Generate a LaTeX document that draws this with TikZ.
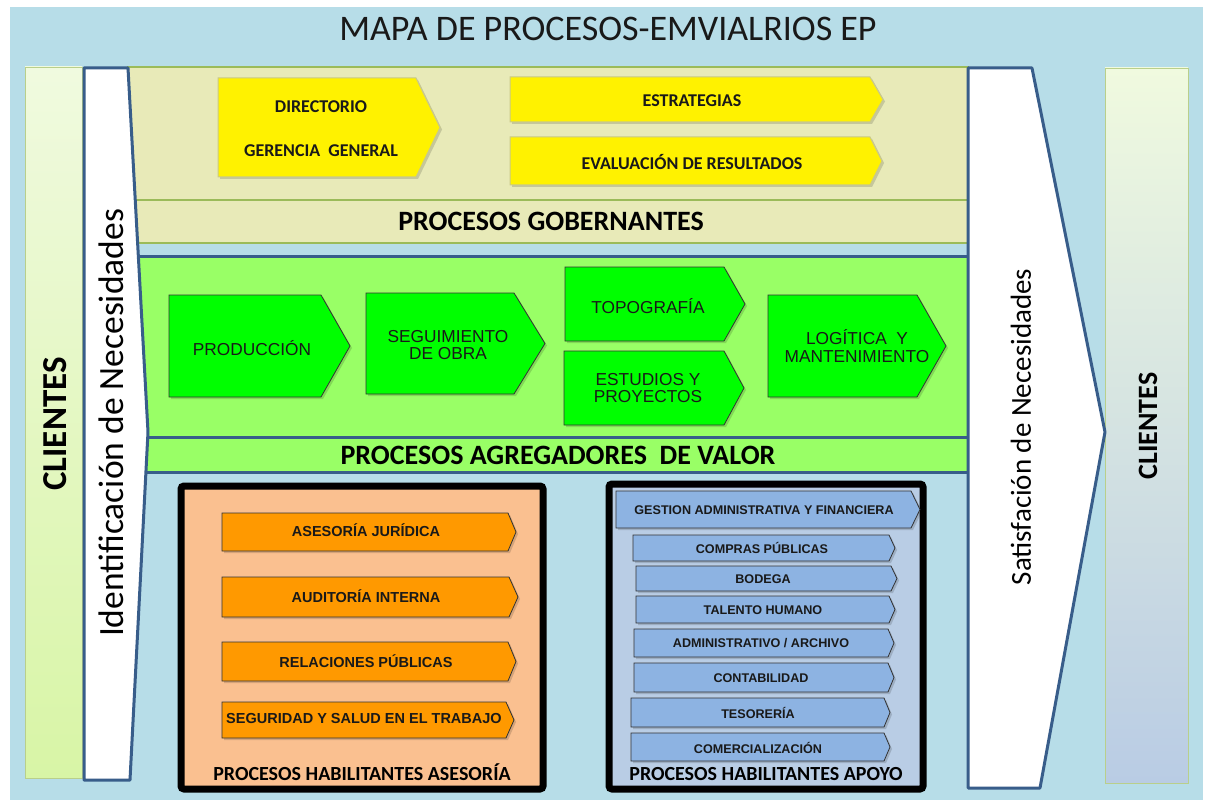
\documentclass[tikz,border=0pt]{standalone}
\usepackage{fontspec}
\setmainfont{Carlito}
\newfontfamily\arialf{Liberation Sans}
\definecolor{bgblue}{HTML}{B7DDE8}
\definecolor{khaki}{HTML}{E8EAB8}
\definecolor{olive}{HTML}{9BBB59}
\definecolor{navy}{HTML}{385D8A}
\definecolor{lgreen}{HTML}{99FF66}
\definecolor{bgreen}{HTML}{00FF00}
\definecolor{peach}{HTML}{FAC090}
\definecolor{orng}{HTML}{FF9900}
\definecolor{pblue}{HTML}{B9CDE5}
\definecolor{iblue}{HTML}{8DB3E2}
\definecolor{ybord}{HTML}{C9C98A}
\definecolor{cltop}{HTML}{F0FADF}
\definecolor{clbot}{HTML}{D8F5A6}
\definecolor{clbl}{HTML}{B9CCE4}
\newcommand\chevshape[6]{%
  \fill[black,opacity=.15] ([shift={(2,2)}]#2,#3) -- ([shift={(2,2)}]#4,#3) -- ([shift={(2,2)}]#5,{(#3+#6)/2}) -- ([shift={(2,2)}]#4,#6) -- ([shift={(2,2)}]#2,#6) -- cycle;
  \filldraw[#1] (#2,#3) -- (#4,#3) -- (#5,{(#3+#6)/2}) -- (#4,#6) -- (#2,#6) -- cycle;}
\tikzset{
  ychev/.style={fill=yellow,draw=ybord,line width=1pt},
  gchev/.style={fill=bgreen,draw=black!80,line width=0.8pt},
  ochev/.style={fill=orng,draw=black!80,line width=0.8pt},
  bchev/.style={fill=iblue,draw=black!80,line width=0.8pt},
  ytxt/.style={font=\fontsize{18}{21}\selectfont\bfseries,text=black!90},
  gtxt/.style={font=\arialf\fontsize{17.3}{17.5}\selectfont,align=center,text=black!90},
  otxt/.style={font=\arialf\bfseries\fontsize{14.5}{17}\selectfont,text=black!90},
  btxt/.style={font=\arialf\bfseries\fontsize{12.6}{14}\selectfont,text=black!90},
  sectxt/.style={font=\fontsize{28}{32}\selectfont\bfseries},
  habtxt/.style={font=\fontsize{20}{22}\selectfont\bfseries},
  habbox/.style={draw=black,line width=7pt,rounded corners=3pt},
}
\begin{document}
\begin{tikzpicture}[x=1pt,y=-1pt]
\useasboundingbox (0,0) rectangle (1205,805);
\fill[white] (0,0) rectangle (1205,805);
\fill[bgblue] (10,7) rectangle (1203,800);
\node[font=\fontsize{36}{40}\selectfont,text=black!90] (title) at (608,29) {MAPA DE PROCESOS-EMVIALRIOS EP};

% left clientes
\shade[top color=cltop,bottom color=clbot] (25,67) rectangle (82,778);
\draw[olive!70,line width=0.8pt] (25,67) rectangle (82,778);
\node[rotate=90,font=\fontsize{35}{40}\selectfont\bfseries] (clL) at (55,424) {CLIENTES};

% right clientes
\shade[top color=cltop,middle color=clbot!70,bottom color=clbl] (1105,68) rectangle (1188,783);
\draw[olive!70,line width=0.8pt] (1105,68) rectangle (1188,783);
\node[rotate=90,font=\fontsize{28}{32}\selectfont\bfseries] (clR) at (1148,426) {CLIENTES};

% gobernantes panel
\filldraw[fill=khaki,draw=olive,line width=1.5pt] (128,67) rectangle (968,243);
\draw[olive,line width=1.5pt] (128,200) -- (968,200);
\node[sectxt] (gob) at (551,221) {PROCESOS GOBERNANTES};

% agregadores panel
\filldraw[fill=lgreen,draw=navy,line width=3pt] (136,257) rectangle (968,472);
\draw[navy,line width=3pt] (136,437) -- (968,437);
\node[sectxt] (agr) at (558,455) {PROCESOS AGREGADORES\ \ DE VALOR};

% identificacion arrow
\filldraw[fill=white,draw=navy,line width=3pt,line join=round] (84,68) -- (128,68) -- (148,432) -- (130,780) -- (84,780) -- cycle;
\node[rotate=90,font=\fontsize{35.5}{40}\selectfont] (ident) at (111,423) {Identificación de Necesidades};

% satisfaccion arrow
\filldraw[fill=white,draw=navy,line width=3pt,line join=round] (968,68) -- (1032,68) -- (1105,432) -- (1040,788) -- (968,788) -- cycle;
\node[rotate=90,font=\fontsize{29}{32}\selectfont] (satis) at (1021,427) {Satisfación de Necesidades};

% yellow
\chevshape{ychev}{218}{78}{416}{440}{177}
\node[ytxt] (dir) at (321,107) {DIRECTORIO};
\node[ytxt] (ger) at (321,151) {GERENCIA\ \ GENERAL};
\chevshape{ychev}{510}{77}{870}{883}{122}
\node[ytxt] (estr) at (692,101) {ESTRATEGIAS};
\chevshape{ychev}{510}{137}{870}{882}{185}
\node[ytxt] (eval) at (692,162) {EVALUACIÓN DE RESULTADOS};

% green
\chevshape{gchev}{169}{295}{321}{350}{397}
\node[gtxt] (prod) at (252,348) {PRODUCCIÓN};
\chevshape{gchev}{366}{293}{514}{545}{394}
\node[gtxt] (seg) at (448,345) {SEGUIMIENTO\\DE OBRA};
\chevshape{gchev}{565}{267}{724}{745}{341}
\node[gtxt] (topo) at (648,306) {TOPOGRAFÍA};
\chevshape{gchev}{564}{351}{724}{744}{425}
\node[gtxt] (estu) at (648,388) {ESTUDIOS Y\\PROYECTOS};
\chevshape{gchev}{768}{295}{917}{946}{397}
\node[gtxt] (logi) at (857,346) {LOGÍTICA\ \ Y\\MANTENIMIENTO};

% asesoria box
\filldraw[habbox,fill=peach] (181,486) rectangle (543,789);
\chevshape{ochev}{222}{513}{508}{516}{551}
\node[otxt] (ases) at (366,530) {ASESORÍA JURÍDICA};
\chevshape{ochev}{222}{577}{509}{518}{617}
\node[otxt] (audi) at (366,596) {AUDITORÍA INTERNA};
\chevshape{ochev}{222}{642}{508}{516}{681}
\node[otxt] (rela) at (366,661) {RELACIONES PÚBLICAS};
\chevshape{ochev}{222}{702}{506}{514}{738}
\node[otxt] (segu) at (364,719) {SEGURIDAD Y SALUD EN EL TRABAJO};
\node[habtxt] (hab1) at (362,772) {PROCESOS HABILITANTES ASESORÍA};

% apoyo box
\filldraw[habbox,fill=pblue] (609,484) rectangle (923,789);
\chevshape{bchev}{616}{491}{911}{920}{528}
\node[btxt] (gest) at (764,510) {GESTION ADMINISTRATIVA Y FINANCIERA};
\chevshape{bchev}{633}{535}{889}{895}{561}
\node[btxt] (comp) at (762,548) {COMPRAS PÚBLICAS};
\chevshape{bchev}{636}{566}{891}{897}{591}
\node[btxt] (bode) at (763,579) {BODEGA};
\chevshape{bchev}{636}{596}{889}{895}{623}
\node[btxt] (tale) at (763,610) {TALENTO HUMANO};
\chevshape{bchev}{634}{629}{888}{894}{657}
\node[btxt] (admi) at (761,643) {ADMINISTRATIVO / ARCHIVO};
\chevshape{bchev}{634}{663}{888}{894}{692}
\node[btxt] (cont) at (761,678) {CONTABILIDAD};
\chevshape{bchev}{631}{698}{884}{890}{727}
\node[btxt] (teso) at (758,713) {TESORERÍA};
\chevshape{bchev}{631}{733}{884}{890}{761}
\node[btxt] (come) at (758,748) {COMERCIALIZACIÓN};
\node[habtxt] (hab2) at (766,774) {PROCESOS HABILITANTES APOYO};
\end{tikzpicture}
\end{document}
